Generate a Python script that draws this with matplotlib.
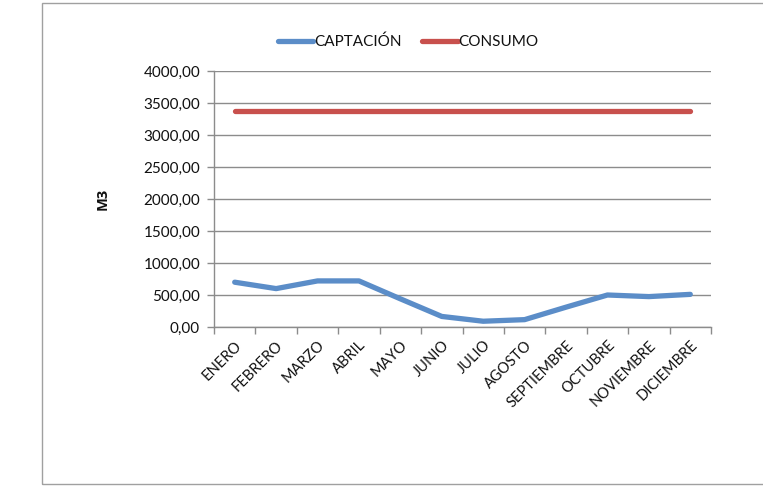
import matplotlib
matplotlib.use("Agg")
import matplotlib.pyplot as plt
from matplotlib.patches import Rectangle
from matplotlib.ticker import FixedLocator, FuncFormatter

plt.rcParams['font.family'] = ['Lato', 'DejaVu Sans']

meses = ["ENERO", "FEBRERO", "MARZO", "ABRIL", "MAYO", "JUNIO", "JULIO",
         "AGOSTO", "SEPTIEMBRE", "OCTUBRE", "NOVIEMBRE", "DICIEMBRE"]
captacion = [700, 600, 720, 720, 440, 165, 90, 115, 310, 500, 475, 510]
consumo = [3370] * 12
y_ticks = [0, 500, 1000, 1500, 2000, 2500, 3000, 3500, 4000]

azul = "#5B8DC8"
rojo = "#C8504D"
gris = "#8C8C8C"
texto = "#111111"

fig = plt.figure(figsize=(7.63, 4.87), dpi=100)
fig.patches.append(Rectangle((42 / 763, 3 / 487), 1.0, 481 / 487,
                             transform=fig.transFigure, fill=False,
                             edgecolor="#A0A0A0", linewidth=1.0))

ax = fig.add_axes([214 / 763, 160 / 487, 497 / 763, 256 / 487])
x = list(range(len(meses)))
ax.plot(x, captacion, color=azul, linewidth=3.8, solid_capstyle="round",
        label="CAPTACIÓN")
ax.plot(x, consumo, color=rojo, linewidth=3.8, solid_capstyle="round",
        label="CONSUMO")

ax.set_xlim(-0.5, len(meses) - 0.5)
ax.set_ylim(0, 4000)
ax.set_yticks(y_ticks)
ax.yaxis.set_major_formatter(FuncFormatter(lambda v, p: f"{v:.2f}".replace(".", ",")))
ax.grid(axis="y", color=gris, linewidth=1.0)
ax.set_axisbelow(True)

ax.set_xticks(x)
ax.set_xticklabels(meses, rotation=45, ha="right", rotation_mode="anchor")
ax.xaxis.set_minor_locator(FixedLocator([i - 0.5 for i in range(len(meses) + 1)]))
ax.tick_params(axis="x", which="major", length=0, pad=8, labelsize=10.5, labelcolor=texto)
ax.tick_params(axis="x", which="minor", length=5, color=gris, width=1.0)
ax.tick_params(axis="y", length=5, color=gris, width=1.0, labelsize=11,
               labelcolor=texto, pad=5)

for side in ("top", "right"):
    ax.spines[side].set_visible(False)
for side in ("left", "bottom"):
    ax.spines[side].set_color(gris)
    ax.spines[side].set_linewidth(1.0)

ax.set_ylabel("M3", fontsize=10.5, fontweight="bold", color=texto,
              family=["Open Sans", "DejaVu Sans"], labelpad=24)

fig.legend(loc="center", bbox_to_anchor=(408 / 763, 1 - 42 / 487), ncol=2,
           frameon=False, fontsize=11, handlelength=2.35, handletextpad=0.05,
           columnspacing=1.3, labelcolor=texto)

fig.savefig("out.png", dpi=100)
